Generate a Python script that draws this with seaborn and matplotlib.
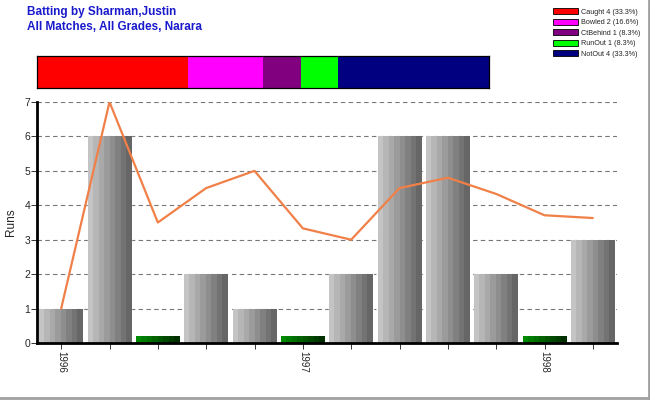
import matplotlib
matplotlib.use("Agg")
import matplotlib.pyplot as plt
import seaborn as sns
import pandas as pd
import numpy as np
from matplotlib.patches import Patch
from matplotlib.lines import Line2D

# innings data
innings = list(range(12))
runs = [1, 6, 0, 2, 1, 0, 2, 6, 6, 2, 0, 3]
average = [1, 7, 3.5, 4.5, 5, 3.33, 3, 4.5, 4.8, 4.33, 3.71, 3.63]
year_pos = [0, 5, 10]
year_labels = ["1996", "1997", "1998"]

# dismissal summary
dismissals = ["Caught", "Bowled", "CtBehind", "RunOut", "NotOut"]
dismissal_counts = [4, 2, 1, 1, 4]
dismissal_colors = ["#ff0000", "#ff00ff", "#800080", "#00ff00", "#000080"]

sns.set_style("white")
plt.rcParams["font.family"] = ["Liberation Sans", "DejaVu Sans"]

df = pd.DataFrame({"inn": innings, "Runs": runs})
df["kind"] = np.where(df["Runs"] > 0, "runs", "duck")
df["h"] = np.where(df["Runs"] > 0, df["Runs"], 0.2)

fig = plt.figure(figsize=(6.5, 4), dpi=100)
ax = fig.add_axes([37 / 650, 1 - 343 / 400, 580 / 650, 241 / 400])

sns.barplot(data=df, x="inn", y="h", hue="kind", dodge=False, width=0.9,
            palette={"runs": "#999999", "duck": "#006000"}, legend=False, ax=ax)

# vertical shading on each bar
gray_grad = plt.matplotlib.colors.LinearSegmentedColormap.from_list("g", ["#c4c4c4", "#666666"])
green_grad = plt.matplotlib.colors.LinearSegmentedColormap.from_list("gr", ["#008a00", "#003000"])
grad = np.linspace(0, 1, 8).reshape(1, -1)
for p in list(ax.patches):
    x0, w, h = p.get_x(), p.get_width(), p.get_height()
    if h <= 0:
        continue
    cmap = green_grad if h < 0.5 else gray_grad
    im = ax.imshow(grad, cmap=cmap, extent=[x0, x0 + w, 0, h], aspect="auto",
                   interpolation="nearest", zorder=2)
    im.set_clip_path(p)

sns.lineplot(x=innings, y=average, color="#f08048", linewidth=1.6, ax=ax, zorder=4)

ax.set_xlim(-0.5, 11.5)
ax.set_ylim(0, 7)
ax.set_yticks(range(8))
ax.yaxis.grid(True, linestyle=(0, (4, 3)), color="#777777", linewidth=0.8)
ax.set_axisbelow(True)
ax.set_xticks(innings)
ax.set_xticklabels([""] * 12)
for pos, lab in zip(year_pos, year_labels):
    ax.text(pos, -0.22, lab, rotation=270, ha="center", va="top", fontsize=7,
            transform=ax.transData)
ax.tick_params(axis="both", bottom=True, left=True, length=4, width=0.7,
               color="#333333", labelsize=7.5, pad=1)
ax.set_xlabel("")
ax.set_ylabel("Runs", fontsize=8.5, labelpad=5)
for s in ["top", "right"]:
    ax.spines[s].set_visible(False)
ax.spines["left"].set_linewidth(2)
ax.spines["bottom"].set_linewidth(2)
ax.spines["left"].set_color("black")
ax.spines["bottom"].set_color("black")

# dismissal strip
sx = fig.add_axes([37 / 650, 1 - 88 / 400, 452 / 650, 32 / 400])
left = 0
for n, c in zip(dismissal_counts, dismissal_colors):
    sx.barh(0, n, left=left, color=c, height=1, edgecolor="none")
    left += n
sx.set_xlim(0, sum(dismissal_counts))
sx.set_ylim(-0.5, 0.5)
sx.set_xticks([])
sx.set_yticks([])
for s in sx.spines.values():
    s.set_linewidth(0.9)
    s.set_color("black")

total = sum(dismissal_counts)
handles = [Patch(facecolor=c, edgecolor="black", linewidth=0.6,
                 label=f"{d} {n} ({int(n / total * 1000) / 10:.1f}%)")
           for d, n, c in zip(dismissals, dismissal_counts, dismissal_colors)]
fig.legend(handles=handles, loc="upper left", bbox_to_anchor=(548 / 650, 1 - 3 / 400),
           frameon=False, fontsize=5.2, handlelength=3.4, handleheight=0.95,
           labelspacing=0.4, handletextpad=0.5, borderpad=0.2)

fig.text(27 / 650, 1 - 12 / 400, "Batting by Sharman,Justin", color="#1a1acc",
         fontsize=8.5, fontweight="bold", va="center")
fig.text(27 / 650, 1 - 27 / 400, "All Matches, All Grades, Narara", color="#1a1acc",
         fontsize=8.5, fontweight="bold", va="center")

# outer border
fig.add_artist(Line2D([0, 1], [0.004, 0.004], color="#a0a0a0", linewidth=2, transform=fig.transFigure))
fig.add_artist(Line2D([0.998, 0.998], [0, 1], color="#a0a0a0", linewidth=2, transform=fig.transFigure))

fig.savefig("out.png", dpi=100)
